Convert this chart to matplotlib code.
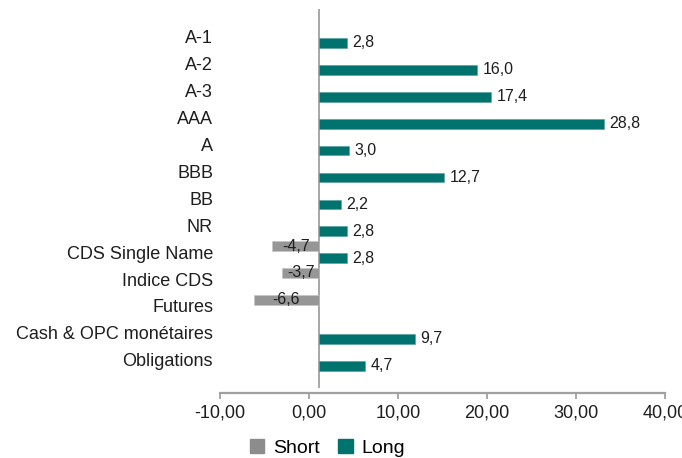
import numpy as np
import matplotlib
matplotlib.use("Agg")
import matplotlib.pyplot as plt
from matplotlib.patches import Patch

plt.rcParams["font.family"] = ["Liberation Sans", "DejaVu Sans"]

categories = ["A-1", "A-2", "A-3", "AAA", "A", "BBB", "BB", "NR",
              "CDS Single Name", "Indice CDS", "Futures",
              "Cash & OPC monétaires", "Obligations"]
long_vals = [2.8, 16.0, 17.4, 28.8, 3.0, 12.7, 2.2, 2.8, 2.8,
             np.nan, np.nan, 9.7, 4.7]
short_vals = [np.nan] * 8 + [-4.7, -3.7, -6.6, np.nan, np.nan]
axis_ticks = [-10, 0, 10, 20, 30, 40]

TEAL = "#00736f"
GREY = "#969696"
AXGREY = "#a0a0a0"
TXT = "#1e1e1e"


def fr(v, nd=1):
    return f"{v:.{nd}f}".replace(".", ",")


fig = plt.figure(figsize=(6.82, 4.58), dpi=100)
ax = fig.add_axes([220 / 682, 1 - 388 / 458, 445 / 682, 379.3 / 458])

y = np.arange(len(categories))
lv = np.array(long_vals, dtype=float)
sv = np.array(short_vals, dtype=float)
ml, ms = np.isfinite(lv), np.isfinite(sv)

bl = ax.barh(y[ml] + 0.225, lv[ml], height=0.36, color=TEAL,
             edgecolor="#4f9e9b", linewidth=0.4)
bs = ax.barh(y[ms] - 0.225, sv[ms], height=0.36, color=GREY,
             edgecolor="#c4c4c4", linewidth=0.4)
ax.bar_label(bl, labels=[fr(v) for v in lv[ml]], padding=4,
             fontsize=11.5, color=TXT)
ax.bar_label(bs, labels=[fr(v) for v in sv[ms]], label_type="center",
             fontsize=11.5, color=TXT)

# bars are drawn on a -10..35 scale while the printed axis runs -10..40
ax.set_xlim(-10, 35)
ax.set_ylim(13.05, -1.05)
ax.axvline(0, color=AXGREY, lw=1.3, zorder=0)
for s in ax.spines.values():
    s.set_visible(False)
ax.set_xticks([])
ax.set_yticks(y)
ax.set_yticklabels(categories, fontsize=13, color=TXT)
ax.tick_params(axis="y", length=0, pad=5)


def fwd(x):
    return (np.asarray(x) + 10) * 50 / 45 - 10


def inv(t):
    return (np.asarray(t) + 10) * 45 / 50 - 10


sec = ax.secondary_xaxis(-5 / 379.3, functions=(fwd, inv))
sec.set_xticks(axis_ticks)
sec.set_xticklabels([fr(t, 2) for t in axis_ticks], fontsize=13, color=TXT)
sec.tick_params(axis="x", direction="out", length=4, width=1.3,
                color=AXGREY, pad=4)
sec.spines["bottom"].set_color(AXGREY)
sec.spines["bottom"].set_linewidth(1.6)

handles = [Patch(color="#8c8c8c", label="Short"), Patch(color=TEAL, label="Long")]
fig.legend(handles=handles, loc="center", bbox_to_anchor=(327.5 / 682, 1 - 448 / 458),
           ncol=2, frameon=False, fontsize=14, handlelength=0.75,
           handleheight=0.75, handletextpad=0.45, columnspacing=0.95)

fig.savefig("out.png", dpi=100)
